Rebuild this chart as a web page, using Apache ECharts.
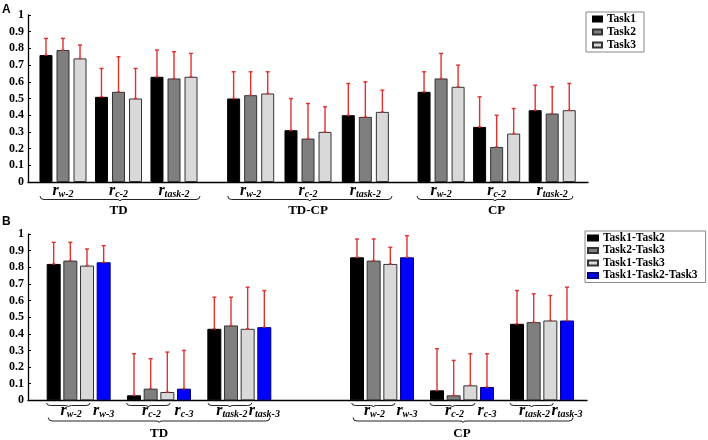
<!DOCTYPE html>
<html>
<head>
<meta charset="utf-8">
<script src="https://cdn.jsdelivr.net/npm/echarts@6/dist/echarts.min.js"></script>
<style>
html,body{margin:0;padding:0;background:#fff;}
#chart{width:708px;height:440px;}
</style>
</head>
<body>
<div id="chart"></div>
<script>
// ---------------- DATA ----------------
// Panel A
const groupsA = ['TD', 'TD-CP', 'CP'];
const catsA = ['w-2', 'c-2', 'task-2'];
const tasksA = ['Task1', 'Task2', 'Task3'];
// means: [task][category]
const meanA_TD   = [[0.76, 0.51, 0.63], [0.79, 0.54, 0.62], [0.74, 0.50, 0.63]];
const sdA_TD     = [[0.10, 0.17, 0.16], [0.07, 0.21, 0.16], [0.08, 0.18, 0.14]];
const meanA_TDCP = [[0.50, 0.31, 0.40], [0.52, 0.26, 0.39], [0.53, 0.30, 0.42]];
const sdA_TDCP   = [[0.16, 0.19, 0.19], [0.14, 0.21, 0.21], [0.13, 0.15, 0.13]];
const meanA_CP   = [[0.54, 0.33, 0.43], [0.62, 0.21, 0.41], [0.57, 0.29, 0.43]];
const sdA_CP     = [[0.12, 0.18, 0.15], [0.15, 0.19, 0.16], [0.13, 0.15, 0.16]];

// Panel B
const groupsB = ['TD', 'CP'];
const catsB2 = ['w-2', 'c-2', 'task-2'];
const catsB3 = ['w-3', 'c-3', 'task-3'];
const tasksB = ['Task1-Task2', 'Task2-Task3', 'Task1-Task3', 'Task1-Task2-Task3'];
const meanB_TD = [[0.82, 0.03, 0.43], [0.84, 0.07, 0.45], [0.81, 0.05, 0.43], [0.83, 0.07, 0.44]];
const sdB_TD   = [[0.13, 0.25, 0.19], [0.11, 0.18, 0.17], [0.10, 0.24, 0.25], [0.10, 0.23, 0.22]];
const meanB_CP = [[0.86, 0.06, 0.46], [0.84, 0.03, 0.47], [0.82, 0.09, 0.48], [0.86, 0.08, 0.48]];
const sdB_CP   = [[0.11, 0.25, 0.20], [0.13, 0.21, 0.17], [0.10, 0.19, 0.15], [0.13, 0.20, 0.20]];

const yTicks = [0, 0.1, 0.2, 0.3, 0.4, 0.5, 0.6, 0.7, 0.8, 0.9, 1];

// ---------------- STYLE / LAYOUT ----------------
const SERIF = 'Liberation Serif';
const colorsA = ['#000000', '#7f7f7f', '#d9d9d9'];
const colorsB = ['#000000', '#7f7f7f', '#d9d9d9', '#0000ff'];
const bordersB = ['#000000', '#333333', '#333333', '#000080'];
const RED = '#e0302f';

const A = { top: 15, height: 167, bw: 13, gap: 0.31,
  frame: [28, 560], grids: [[35.25, 166.5], [222, 172], [413.3, 166.7]] };
const B = { top: 234, height: 166.3, bw: 14, gap: 0.19,
  frame: [28, 559], grids: [[38.5, 241], [342, 240]] };

const richLabel = {
  r: { fontFamily: SERIF, fontStyle: 'italic', fontWeight: 'bold', fontSize: 16, color: '#000' },
  s: { fontFamily: SERIF, fontStyle: 'italic', fontWeight: 'bold', fontSize: 10, color: '#000', verticalAlign: 'bottom' }
};
const labFmt = v => '{r|r}{s|' + v + '}';

const grids = [], xAxes = [], yAxes = [], series = [];

function frameAxes(P) {
  const gi = grids.length;
  grids.push({ left: P.frame[0], width: P.frame[1], top: P.top, height: P.height, outerBoundsMode: 'none' });
  xAxes.push({ gridIndex: gi, type: 'value', min: 0, max: 1,
    axisLine: { show: true, onZero: false, lineStyle: { color: '#000', width: 1.3 } },
    axisTick: { show: false }, axisLabel: { show: false }, splitLine: { show: false } });
  yAxes.push({ gridIndex: gi, type: 'value', min: 0, max: 1, interval: 0.1,
    axisLine: { show: true, lineStyle: { color: '#000', width: 1.3 } },
    axisTick: { show: true, inside: true, length: 3, lineStyle: { color: '#000' } },
    axisLabel: { fontFamily: SERIF, fontWeight: 'bold', fontSize: 12, color: '#000', margin: 4,
      formatter: v => String(+v.toFixed(1)) },
    splitLine: { show: false } });
}

function errRender(nTasks, bw, gap) {
  return function (params, api) {
    const cat = api.value(0), mean = api.value(1), sd = api.value(2), t = api.value(3);
    const pitch = bw * (1 + gap);
    const base = api.coord([cat, mean]);
    const top = api.coord([cat, mean + sd]);
    const x = base[0] + (t - (nTasks - 1) / 2) * pitch;
    const st = { stroke: RED, lineWidth: 1.4 };
    return { type: 'group', children: [
      { type: 'line', shape: { x1: x, y1: base[1], x2: x, y2: top[1] }, style: st },
      { type: 'line', shape: { x1: x - 2, y1: top[1], x2: x + 2, y2: top[1] }, style: st },
      { type: 'line', shape: { x1: x - 1.5, y1: base[1], x2: x + 1.5, y2: base[1] }, style: st }
    ] };
  };
}

// ---- Panel A ----
frameAxes(A);
const meansA = [meanA_TD, meanA_TDCP, meanA_CP];
const sdsA = [sdA_TD, sdA_TDCP, sdA_CP];
groupsA.forEach((g, k) => {
  const gi = grids.length;
  grids.push({ left: A.grids[k][0], width: A.grids[k][1], top: A.top, height: A.height, outerBoundsMode: 'none' });
  const xi = xAxes.length, yi = yAxes.length;
  xAxes.push({ gridIndex: gi, type: 'category', position: 'bottom', data: catsA,
    axisLine: { show: false }, axisTick: { show: false }, splitLine: { show: false },
    axisLabel: { interval: 0, margin: 1, formatter: labFmt, rich: richLabel },
    name: g, nameLocation: 'middle', nameGap: 22,
    nameTextStyle: { fontFamily: SERIF, fontWeight: 'bold', fontSize: 13, color: '#000' } });
  yAxes.push({ gridIndex: gi, type: 'value', min: 0, max: 1, show: false, splitLine: { show: false } });
  const errData = [];
  tasksA.forEach((t, ti) => {
    series.push({ type: 'bar', name: t, xAxisIndex: xi, yAxisIndex: yi, data: meansA[k][ti],
      barWidth: A.bw, barGap: (A.gap * 100) + '%',
      itemStyle: { color: colorsA[ti], borderColor: ti === 0 ? '#000' : '#333', borderWidth: 1 },
      emphasis: { disabled: true }, animation: false });
    meansA[k][ti].forEach((m, ci) => errData.push([ci, m, sdsA[k][ti][ci], ti]));
  });
  series.push({ type: 'custom', name: 'errA' + k, xAxisIndex: xi, yAxisIndex: yi, z: 5,
    renderItem: errRender(3, A.bw, A.gap), data: errData, animation: false, silent: true });
});

// ---- Panel B ----
frameAxes(B);
const meansB = [meanB_TD, meanB_CP];
const sdsB = [sdB_TD, sdB_CP];
groupsB.forEach((g, k) => {
  const gi = grids.length;
  grids.push({ left: B.grids[k][0], width: B.grids[k][1], top: B.top, height: B.height, outerBoundsMode: 'none' });
  const xi = xAxes.length, yi = yAxes.length;
  xAxes.push({ gridIndex: gi, type: 'category', position: 'bottom', data: catsB2,
    axisLine: { show: false }, axisTick: { show: false }, splitLine: { show: false },
    axisLabel: { interval: 0, margin: 3, formatter: labFmt, rich: richLabel, padding: [0, 15, 0, 0] },
    name: g, nameLocation: 'middle', nameGap: 27,
    nameTextStyle: { fontFamily: SERIF, fontWeight: 'bold', fontSize: 13, color: '#000' } });
  xAxes.push({ gridIndex: gi, type: 'category', position: 'bottom', offset: 0, data: catsB3,
    axisLine: { show: false }, axisTick: { show: false }, splitLine: { show: false },
    axisLabel: { interval: 0, margin: 3, formatter: labFmt, rich: richLabel, padding: [0, 0, 0, 50] } });
  yAxes.push({ gridIndex: gi, type: 'value', min: 0, max: 1, show: false, splitLine: { show: false } });
  const errData = [];
  tasksB.forEach((t, ti) => {
    series.push({ type: 'bar', name: t, xAxisIndex: xi, yAxisIndex: yi, data: meansB[k][ti],
      barWidth: B.bw, barGap: (B.gap * 100) + '%',
      itemStyle: { color: colorsB[ti], borderColor: bordersB[ti], borderWidth: 1 },
      emphasis: { disabled: true }, animation: false });
    meansB[k][ti].forEach((m, ci) => errData.push([ci, m, sdsB[k][ti][ci], ti]));
  });
  series.push({ type: 'custom', name: 'errB' + k, xAxisIndex: xi, yAxisIndex: yi, z: 5,
    renderItem: errRender(4, B.bw, B.gap), data: errData, animation: false, silent: true });
});

// ---- Braces (decoration) ----
function braceElems(x0, x1, y, h) {
  const xm = (x0 + x1) / 2;
  const st = { fill: null, stroke: '#222', lineWidth: 1 };
  const bz = (a, b, c, d, e, f) => ({ type: 'bezierCurve', silent: true,
    shape: { x1: a, y1: b, cpx1: c, cpy1: d, x2: e, y2: f }, style: st });
  const ln = (a, b, c, d) => ({ type: 'line', silent: true, shape: { x1: a, y1: b, x2: c, y2: d }, style: st });
  return [
    bz(x0, y - h, x0, y, x0 + 4, y),
    ln(x0 + 4, y, xm - 3, y),
    bz(xm - 3, y, xm, y, xm, y + 1.5),
    bz(xm, y + 1.5, xm, y, xm + 3, y),
    ln(xm + 3, y, x1 - 4, y),
    bz(x1 - 4, y, x1, y, x1, y - h)
  ];
}
const braces = [
  [40, 200, 199.5, 3.5], [227.7, 392, 199.5, 3.5], [417, 573, 199.5, 3.5],
  [46.7, 90, 405.5, 2.5], [126.7, 170, 405.5, 2.5], [208, 251.7, 405.5, 2.5],
  [351.7, 395, 405.5, 2.5], [430, 475, 405.5, 2.5], [510, 553.3, 405.5, 2.5],
  [48.3, 270, 421, 3.5], [353, 573, 421, 3.5]
];
let graphic = [];
braces.forEach(b => { graphic = graphic.concat(braceElems(b[0], b[1], b[2], b[3])); });
graphic.push({ type: 'text', left: 2, top: 4, style: { text: 'A', font: 'bold 12px "Liberation Sans"', fill: '#000' } });
graphic.push({ type: 'text', left: 2, top: 216, style: { text: 'B', font: 'bold 12px "Liberation Sans"', fill: '#000' } });

const legendText = { fontFamily: SERIF, fontWeight: 'bold', fontSize: 11.5, color: '#000', lineHeight: 12 };

const option = {
  backgroundColor: '#fff',
  animation: false,
  grid: grids, xAxis: xAxes, yAxis: yAxes, series: series,
  legend: [
    { data: tasksA, orient: 'vertical', left: 586, top: 12, icon: 'rect',
      itemWidth: 9, itemHeight: 5, itemGap: 1, padding: [1, 8, 1, 6],
      borderColor: '#888', borderWidth: 1, textStyle: legendText, selectedMode: false },
    { data: tasksB, orient: 'vertical', left: 585, top: 231, icon: 'rect',
      itemWidth: 10, itemHeight: 5, itemGap: 0.5, padding: [1, 8, 1, 2],
      borderColor: '#888', borderWidth: 1, textStyle: legendText, selectedMode: false }
  ],
  graphic: graphic
};

const chart = echarts.init(document.getElementById('chart'), null, { renderer: 'canvas' });
chart.setOption(option);
</script>
</body>
</html>
